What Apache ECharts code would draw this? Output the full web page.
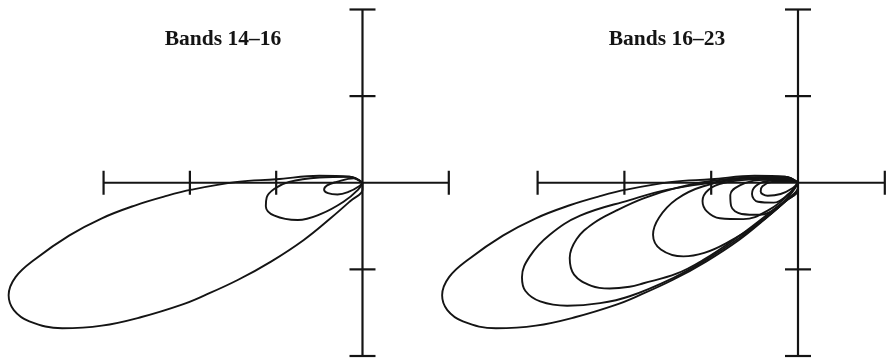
<!DOCTYPE html>
<html>
<head>
<meta charset="utf-8">
<title>Bands 14–16 / Bands 16–23</title>
<script src="https://cdn.jsdelivr.net/npm/echarts@6/dist/echarts.min.js"></script>
<style>
  html, body { margin: 0; padding: 0; background: #fff; }
  #chart { width: 886px; height: 361px; }
</style>
</head>
<body>
<div id="chart"></div>
<script>
// Closed loops traced from the origin: upper edge outward, round the far end, lower edge back.
const band14 = [[0,0],[-0.1,0.05],[-0.3,0.01],[-0.41,-0.03],[-0.445,-0.08],[-0.40,-0.12],[-0.29,-0.135],[-0.15,-0.1],[-0.04,-0.04],[0,0]];
const band15 = [[0,0],[-0.15,0.07],[-0.5,0.06],[-0.85,0.01],[-1.02,-0.07],[-1.11,-0.17],[-1.12,-0.27],[-1.02,-0.38],[-0.75,-0.43],[-0.48,-0.36],[-0.22,-0.22],[-0.05,-0.08],[0,0]];
const band16 = [[0,0],[-0.15,0.07],[-0.5,0.08],[-1.0,0.04],[-1.45,0.01],[-1.98,-0.08],[-2.3,-0.16],[-2.63,-0.26],[-3.02,-0.41],[-3.40,-0.61],[-3.79,-0.88],[-4.02,-1.09],[-4.10,-1.30],[-4.04,-1.47],[-3.86,-1.60],[-3.48,-1.68],[-3.02,-1.65],[-2.56,-1.55],[-2.10,-1.41],[-1.83,-1.30],[-1.44,-1.12],[-1.06,-0.91],[-0.68,-0.66],[-0.37,-0.41],[-0.14,-0.21],[0,-0.08],[0,0]];
const band17 = [[0,0],[-0.15,0.07],[-0.5,0.06],[-1.0,0.0],[-1.5,-0.08],[-1.94,-0.2],[-2.51,-0.38],[-2.86,-0.60],[-3.09,-0.85],[-3.18,-1.09],[-3.14,-1.25],[-2.97,-1.37],[-2.66,-1.42],[-2.28,-1.39],[-1.94,-1.31],[-1.44,-1.10],[-1.06,-0.89],[-0.68,-0.64],[-0.37,-0.40],[-0.14,-0.21],[0,-0.08],[0,0]];
const band18 = [[0,0],[-0.15,0.06],[-0.5,0.06],[-1.0,0.02],[-1.40,-0.06],[-1.78,-0.18],[-2.09,-0.32],[-2.36,-0.47],[-2.55,-0.65],[-2.63,-0.87],[-2.58,-1.06],[-2.38,-1.19],[-2.17,-1.22],[-1.94,-1.2],[-1.78,-1.16],[-1.40,-1.05],[-1.09,-0.89],[-0.7,-0.63],[-0.37,-0.38],[-0.13,-0.19],[0,-0.07],[0,0]];
const band19 = [[0,0],[-0.15,0.06],[-0.6,0.05],[-1.09,-0.04],[-1.40,-0.19],[-1.60,-0.40],[-1.67,-0.6],[-1.58,-0.77],[-1.32,-0.85],[-1.08,-0.81],[-0.83,-0.70],[-0.44,-0.46],[-0.13,-0.2],[0,-0.05],[0,0]];
const band20 = [[0,0],[-0.12,0.05],[-0.5,0.04],[-0.85,0.0],[-1.03,-0.08],[-1.10,-0.21],[-1.05,-0.33],[-0.9,-0.41],[-0.63,-0.42],[-0.33,-0.31],[-0.1,-0.13],[0,0]];
const band21 = [[0,0],[-0.1,0.04],[-0.45,0.03],[-0.67,-0.03],[-0.78,-0.14],[-0.77,-0.27],[-0.65,-0.36],[-0.44,-0.37],[-0.21,-0.26],[-0.06,-0.1],[0,0]];
const band22 = [[0,0],[-0.1,0.03],[-0.35,0.02],[-0.49,-0.04],[-0.53,-0.13],[-0.46,-0.22],[-0.28,-0.23],[-0.1,-0.12],[0,0]];
const band23 = [[0,0],[-0.1,0.02],[-0.3,0.01],[-0.41,-0.04],[-0.43,-0.1],[-0.35,-0.15],[-0.2,-0.13],[-0.06,-0.06],[0,0]];

// Drawn axis extents and cross-tick positions, shared by both panels
const xRange = [-3, 1];
const yRange = [-2, 2];
const xTicks = [-3, -2, -1, 1];
const yTicks = [-2, -1, 1, 2];
// Plotting window (wider than the drawn axes so the long loops fit)
const xView = [-4.2, 1];

const panelTitles = ['Bands 14–16', 'Bands 16–23'];
const panelBands = [
  [band14, band15, band16],
  [band16, band17, band18, band19, band20, band21, band22, band23]
];

const INK = '#141414';
const UNIT = 86.8;
const origins = [362, 798];
const grids = origins.map(ox => ({
  left: ox + xView[0] * UNIT, top: 9.5,
  width: (xView[1] - xView[0]) * UNIT, height: 346.5
}));

function hiddenAxis(range, gridIndex) {
  return { type: 'value', gridIndex, min: range[0], max: range[1], show: false,
           splitLine: { show: false } };
}
const xAxes = grids.map((g, i) => hiddenAxis(xView, i));
const yAxes = grids.map((g, i) => hiddenAxis(yRange, i));

const strokeStyle = { stroke: INK, lineWidth: 2.2 };

const series = [];
panelBands.forEach((loops, i) => {
  // the axis cross with its ticks
  series.push({
    type: 'custom', xAxisIndex: i, yAxisIndex: i, silent: true, clip: false,
    data: [[0, 0]],
    renderItem: (params, api) => {
      const a = api.coord([xRange[0], 0]), b = api.coord([xRange[1], 0]);
      const c = api.coord([0, yRange[0]]), d = api.coord([0, yRange[1]]);
      const children = [
        { type: 'line', shape: { x1: a[0], y1: a[1], x2: b[0], y2: b[1] }, style: strokeStyle },
        { type: 'line', shape: { x1: c[0], y1: c[1], x2: d[0], y2: d[1] }, style: strokeStyle }
      ];
      xTicks.forEach(v => {
        const p = api.coord([v, 0]);
        children.push({ type: 'line', shape: { x1: p[0], y1: p[1] - 12, x2: p[0], y2: p[1] + 12 }, style: strokeStyle });
      });
      yTicks.forEach(v => {
        const p = api.coord([0, v]);
        children.push({ type: 'line', shape: { x1: p[0] - 13, y1: p[1], x2: p[0] + 13, y2: p[1] }, style: strokeStyle });
      });
      return { type: 'group', children };
    }
  });
  loops.forEach(loop => {
    series.push({
      type: 'line', xAxisIndex: i, yAxisIndex: i, data: loop,
      smooth: 0.4, showSymbol: false, clip: false, silent: true,
      lineStyle: { color: INK, width: 1.9 }
    });
  });
});

const titleFont = 'bold 21.5px "Liberation Serif", "Times New Roman", serif';
const chart = echarts.init(document.getElementById('chart'), null, { renderer: 'canvas' });
chart.setOption({
  animation: false,
  backgroundColor: '#fff',
  grid: grids,
  xAxis: xAxes,
  yAxis: yAxes,
  graphic: [
    { type: 'text', x: 223, y: 39, style: { text: panelTitles[0], fill: INK, font: titleFont,
      textAlign: 'center', textVerticalAlign: 'middle' } },
    { type: 'text', x: 667, y: 39, style: { text: panelTitles[1], fill: INK, font: titleFont,
      textAlign: 'center', textVerticalAlign: 'middle' } }
  ],
  series
});
</script>
</body>
</html>
